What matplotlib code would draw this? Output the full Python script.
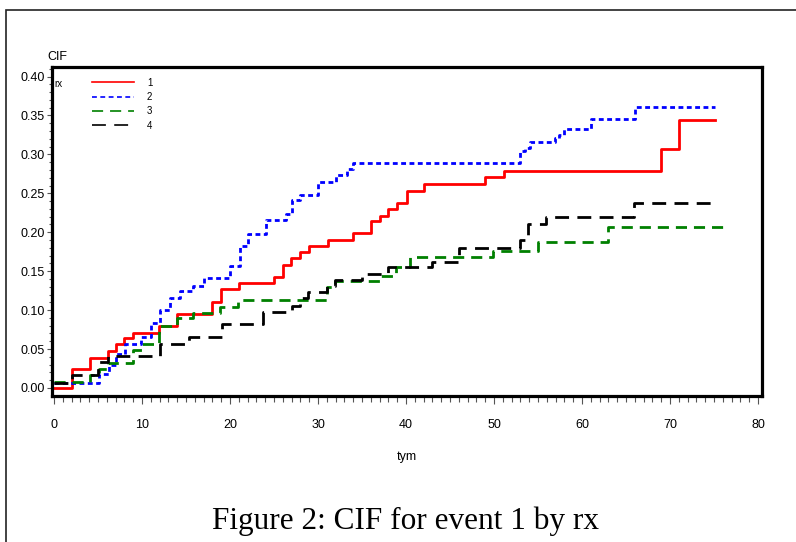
import numpy as np
import matplotlib.pyplot as plt
from matplotlib.lines import Line2D
from matplotlib.patches import Rectangle
from matplotlib.ticker import MultipleLocator

plt.rcParams['font.family'] = ['Liberation Sans', 'DejaVu Sans']
plt.rcParams['lines.scale_dashes'] = False

# CIF step data per treatment group (rx)
groups = ['1', '2', '3', '4']

t1 = [0, 2.1, 4.1, 6.1, 7.0, 8.0, 9.0, 11.9, 14.0, 18.0, 19.0, 21.0, 25.0, 26.0, 26.9,
      28.0, 29.0, 31.1, 34.0, 36.0, 37.0, 38.0, 39.0, 40.1, 42.0, 49.0, 51.1, 69.0, 71.0]
cif1 = [0.000, 0.024, 0.039, 0.048, 0.056, 0.064, 0.071, 0.079, 0.095, 0.110, 0.127, 0.135,
        0.142, 0.158, 0.167, 0.174, 0.182, 0.190, 0.199, 0.214, 0.221, 0.230, 0.237, 0.253,
        0.262, 0.271, 0.279, 0.307, 0.344]

t2 = [0, 5.1, 6.2, 7.1, 8.1, 9.9, 11.0, 12.0, 13.2, 14.3, 15.8, 17.0, 20.0, 21.1, 22.1, 24.1,
      26.4, 27.0, 28.0, 30.0, 32.0, 33.3, 34.0, 53.0, 53.5, 54.1, 56.9, 57.4, 57.9, 61.0, 66.0]
cif2 = [0.007, 0.018, 0.030, 0.044, 0.057, 0.066, 0.083, 0.100, 0.115, 0.125, 0.131, 0.141,
        0.157, 0.182, 0.198, 0.216, 0.224, 0.241, 0.248, 0.265, 0.273, 0.281, 0.289, 0.304,
        0.308, 0.316, 0.321, 0.325, 0.333, 0.345, 0.361]

t3 = [0, 4.1, 5.1, 6.1, 9.0, 10.0, 11.9, 14.0, 15.8, 18.9, 20.9, 31.0, 31.9, 37.0, 38.9,
      40.5, 49.9, 55.0, 62.9]
cif3 = [0.008, 0.017, 0.024, 0.032, 0.049, 0.057, 0.080, 0.090, 0.096, 0.104, 0.113, 0.130,
        0.137, 0.144, 0.156, 0.168, 0.176, 0.188, 0.207]

t4 = [0, 2.1, 5.0, 6.1, 12.0, 15.3, 19.1, 23.8, 27.0, 28.0, 28.9, 31.0, 31.9, 35.0, 38.0,
      43.0, 46.0, 52.9, 53.9, 55.9, 65.9]
cif4 = [0.007, 0.017, 0.033, 0.041, 0.057, 0.065, 0.082, 0.098, 0.105, 0.115, 0.123, 0.131,
        0.139, 0.147, 0.155, 0.162, 0.180, 0.190, 0.210, 0.220, 0.237]

t_last = [75.1, 75.1, 76.1, 75.1]

colors = ['#ff0000', '#0000ff', '#008000', '#000000']
styles = ['-', (0, (3.5, 2.5)), (0, (8, 5)), (0, (10, 6))]

fig = plt.figure(figsize=(7.96, 5.42), dpi=100)

# outer frame around the whole figure
fig.patches.append(Rectangle((6 / 796, -0.05), 1.1, 1 - 10 / 542 + 0.05,
                             transform=fig.transFigure, fill=False,
                             edgecolor='#222222', linewidth=1.2))

ax = fig.add_axes([0.0653, 0.270, 0.892, 0.606])

series = [(t1, cif1), (t2, cif2), (t3, cif3), (t4, cif4)]
for (t, c), end, col, ls in zip(series, t_last, colors, styles):
    x = list(t) + [end]
    y = list(c) + [c[-1]]
    ax.step(x, y, where='post', color=col, linestyle=ls, linewidth=2.0)

ax.set_xlim(-0.23, 80.45)
ax.set_ylim(-0.0099, 0.412)

for s in ax.spines.values():
    s.set_linewidth(2.3)

ax.xaxis.set_major_locator(MultipleLocator(10))
ax.xaxis.set_minor_locator(MultipleLocator(1))
ax.yaxis.set_major_locator(MultipleLocator(0.05))
ax.yaxis.set_minor_locator(MultipleLocator(0.01))
ax.yaxis.set_major_formatter(plt.FuncFormatter(lambda v, p: '{:.2f}'.format(v)))

ax.tick_params(axis='x', which='major', length=6, width=0.8, color='#555555',
               labelsize=9, pad=11)
ax.tick_params(axis='x', which='minor', length=4.5, width=0.8, color='#555555')
ax.tick_params(axis='y', which='major', length=3.5, width=0.8, color='#555555',
               labelsize=9, pad=1.5)
ax.tick_params(axis='y', which='minor', length=2, width=0.8, color='#555555')

ax.set_xlabel('tym', fontsize=9, labelpad=14)

fig.text(57 / 796, 1 - 57 / 542, 'CIF', fontsize=9, ha='center', va='center')

# legend
handles = [Line2D([], [], color=c, linestyle=ls, linewidth=1.2)
           for c, ls in zip(colors, styles)]
ax.legend(handles, groups, loc='upper left', bbox_to_anchor=(0.057, 0.968),
          frameon=False, fontsize=7, handlelength=4.3, handletextpad=1.3,
          labelspacing=0.45, borderpad=0, borderaxespad=0)
ax.text(0.004, 0.948, 'rx', transform=ax.transAxes, fontsize=7, va='center')

fig.text(0.51, 1 - 521 / 542, 'Figure 2: CIF for event 1 by rx',
         family=['Liberation Serif', 'DejaVu Serif'], fontsize=22.5,
         ha='center', va='center')

fig.savefig('out.png', dpi=100)
